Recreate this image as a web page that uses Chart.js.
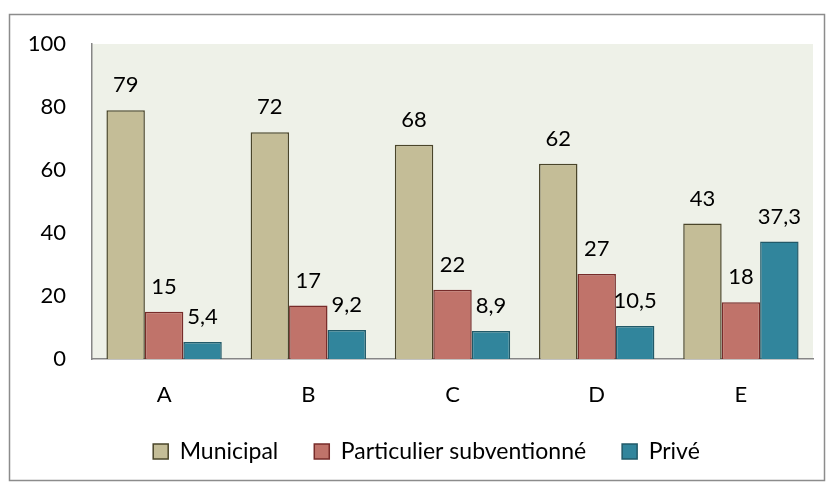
<!DOCTYPE html>
<html>
<head>
<meta charset="utf-8">
<script src="https://cdn.jsdelivr.net/npm/chart.js@4"></script>
<style>
  html, body { margin: 0; padding: 0; background: #fff; }
  #wrap { width: 827px; height: 483px; position: relative; }
</style>
</head>
<body>
<div id="wrap"><canvas id="chart" width="827" height="483"></canvas></div>
<script>
var categories = ['A', 'B', 'C', 'D', 'E'];
var municipal = [79, 72, 68, 62, 43];
var subventionne = [15, 17, 22, 27, 18];
var prive = [5.4, 9.2, 8.9, 10.5, 37.3];
var seriesNames = ['Municipal', 'Particulier subventionné', 'Privé'];
var yTicks = [0, 20, 40, 60, 80, 100];

var fontFamily = 'Lato, "Open Sans", sans-serif';

// plot background + outer frame
var framePlugin = {
	id: 'frame',
	beforeDraw: function(chart) {
		var ctx = chart.ctx, a = chart.chartArea;
		ctx.save();
		ctx.fillStyle = '#eef1e8';
		ctx.fillRect(a.left, a.top, a.right - a.left, a.bottom - a.top);
		ctx.strokeStyle = '#8c8c8c';
		ctx.lineWidth = 1.5;
		ctx.strokeRect(9.5, 14.5, 815, 466);
		ctx.restore();
	}
};

// legend needs wide gaps between items but sits tight, so clamp its height
// and nudge it into place after layout
var legendFitPlugin = {
	id: 'legendFit',
	beforeLayout: function(chart) {
		var lg = chart.legend;
		if (lg && !lg._patched) {
			var orig = lg.fit;
			lg.fit = function() { orig.call(this); this.height = 64; };
			lg._patched = true;
		}
	},
	afterLayout: function(chart) {
		var lg = chart.legend;
		lg.top -= 15; lg.bottom -= 15;
		lg.left += 15; lg.right += 15;
	}
};

// values above the bars
var valuePlugin = {
	id: 'values',
	afterDatasetsDraw: function(chart) {
		var ctx = chart.ctx;
		ctx.save();
		ctx.font = '22px ' + fontFamily;
		ctx.fillStyle = '#000';
		ctx.textAlign = 'center';
		ctx.textBaseline = 'middle';
		chart.data.datasets.forEach(function(ds, i) {
			chart.getDatasetMeta(i).data.forEach(function(bar, j) {
				var txt = String(ds.data[j]).replace('.', ',');
				ctx.fillText(txt, bar.x, bar.y - 25);
			});
		});
		ctx.restore();
	}
};

new Chart(document.getElementById('chart').getContext('2d'), {
	type: 'bar',
	data: {
		labels: categories,
		datasets: [
			{ label: seriesNames[0], data: municipal, backgroundColor: '#c4bd97', borderColor: '#4a452a', borderWidth: 1.5 },
			{ label: seriesNames[1], data: subventionne, backgroundColor: '#c0736a', borderColor: '#772c2a', borderWidth: 1.5 },
			{ label: seriesNames[2], data: prive, backgroundColor: '#31859c', borderColor: '#215968', borderWidth: 1.5 }
		]
	},
	options: {
		responsive: false,
		animation: false,
		layout: { padding: { left: 10, right: 14, top: 44, bottom: 0 } },
		datasets: { bar: { categoryPercentage: 0.8, barPercentage: 1 } },
		plugins: {
			tooltip: { enabled: false },
			legend: {
				position: 'bottom',
				labels: {
					font: { family: fontFamily, size: 23 },
					color: '#000',
					boxWidth: 15,
					boxHeight: 15,
					padding: 36,
					useBorderRadius: false
				}
			}
		},
		scales: {
			x: {
				grid: { display: false, drawTicks: false },
				border: { color: '#868686', width: 1.5 },
				ticks: { font: { family: fontFamily, size: 22 }, color: '#000', padding: 23 },
				afterFit: function(s) { s.height = 60; }
			},
			y: {
				min: 0,
				max: 100,
				afterBuildTicks: function(s) { s.ticks = yTicks.map(function(v) { return { value: v }; }); },
				grid: { display: false, drawTicks: false },
				border: { color: '#868686', width: 1.5 },
				ticks: { font: { family: fontFamily, size: 22 }, color: '#000', padding: 26 },
				afterFit: function(s) { s.width = 82; }
			}
		}
	},
	plugins: [framePlugin, legendFitPlugin, valuePlugin]
});
</script>
</body>
</html>
